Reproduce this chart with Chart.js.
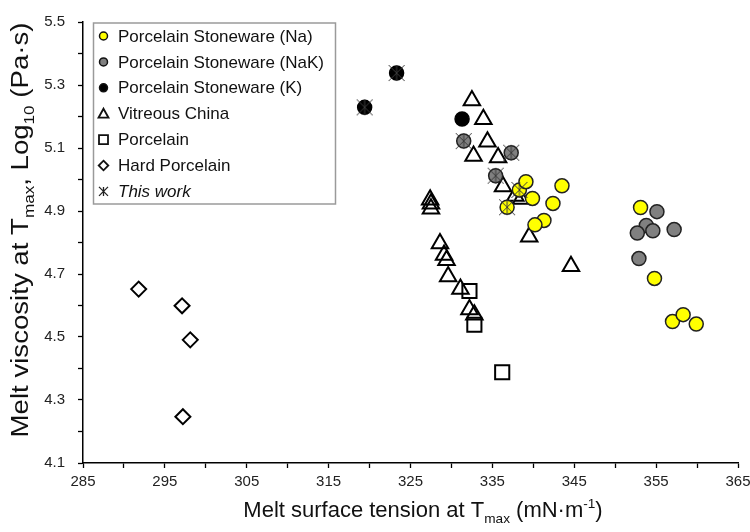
<!DOCTYPE html>
<html>
<head>
<meta charset="utf-8">
<script src="https://cdn.jsdelivr.net/npm/chart.js@4/dist/chart.umd.min.js"></script>
<style>
html,body{margin:0;padding:0;background:#fff;}
#wrap{width:750px;height:532px;position:relative;}
</style>
</head>
<body>
<div id="wrap"><canvas id="c" width="750" height="532"></canvas></div>
<script>
// ---- tick labels ----
const xTickLabels = [285, 295, 305, 315, 325, 335, 345, 355, 365];
const yTickLabels = [4.1, 4.3, 4.5, 4.7, 4.9, 5.1, 5.3, 5.5];

// ---- series (surface tension mN/m, log10 viscosity) ----
const naX  = [336.8, 338.3, 339.1, 343.5, 339.9, 342.4, 341.3, 340.2, 353.1, 354.8, 357.0, 358.3, 359.9];
const naY  = [4.912, 4.967, 4.993, 4.980, 4.940, 4.924, 4.870, 4.856, 4.911, 4.686, 4.549, 4.571, 4.541];

const nakX = [331.5, 335.4, 337.3, 355.1, 353.8, 354.6, 352.7, 357.2, 352.9];
const nakY = [5.122, 5.012, 5.085, 4.898, 4.854, 4.837, 4.830, 4.841, 4.749];

const kX   = [319.4, 323.3, 331.3];
const kY   = [5.229, 5.338, 5.192];

const vcX  = [332.5, 333.9, 334.4, 332.7, 335.7, 336.3, 337.8, 338.5, 339.5, 344.6, 327.4, 327.5, 327.5, 328.6, 329.1, 329.4, 329.6, 331.1, 332.2, 332.8];
const vcY  = [5.251, 5.191, 5.120, 5.075, 5.070, 4.978, 4.948, 4.938, 4.818, 4.725, 4.936, 4.923, 4.907, 4.797, 4.760, 4.744, 4.692, 4.652, 4.587, 4.571];

const porX = [332.2, 332.8, 336.2];
const porY = [4.646, 4.539, 4.388];

const hpX  = [291.8, 297.1, 298.1, 297.2];
const hpY  = [4.652, 4.599, 4.491, 4.247];

const twX  = [319.4, 323.3, 331.5, 335.4, 337.3, 336.8, 338.3];
const twY  = [5.229, 5.338, 5.122, 5.012, 5.085, 4.912, 4.967];

const seriesNames = ['Porcelain Stoneware (Na)', 'Porcelain Stoneware (NaK)', 'Porcelain Stoneware (K)',
  'Vitreous China', 'Porcelain', 'Hard Porcelain', 'This work'];

function pts(xs, ys) { return xs.map((x, i) => ({x: x, y: ys[i]})); }

function markCanvas(size, half, color, lw) {
  const c = document.createElement('canvas');
  c.width = size; c.height = size;
  const g = c.getContext('2d');
  g.strokeStyle = color; g.lineWidth = lw;
  const m = size / 2;
  g.beginPath();
  g.moveTo(m - half, m - half); g.lineTo(m + half, m + half);
  g.moveTo(m + half, m - half); g.lineTo(m - half, m + half);
  g.moveTo(m, m - half); g.lineTo(m, m + half);
  g.stroke();
  return c;
}
const twMark = markCanvas(18, 8, '#3a3a3a', 1);

const FONT = '"Liberation Sans", Arial, Helvetica, sans-serif';
const YEL = '#ffff00', GRY = '#808080';

const datasets = [
  {label: seriesNames[0], data: pts(naX, naY), order: 1, pointStyle: 'circle', pointRadius: 7,
   backgroundColor: YEL, borderColor: '#222', borderWidth: 1.5},
  {label: seriesNames[1], data: pts(nakX, nakY), order: 2, pointStyle: 'circle', pointRadius: 7,
   backgroundColor: GRY, borderColor: '#222', borderWidth: 1.5},
  {label: seriesNames[2], data: pts(kX, kY), order: 3, pointStyle: 'circle', pointRadius: 7,
   backgroundColor: '#000', borderColor: '#000', borderWidth: 1.5},
  {label: seriesNames[3], data: pts(vcX, vcY), order: 4, pointStyle: 'triangle', pointRadius: 9.5,
   backgroundColor: 'rgba(255,255,255,0)', borderColor: '#000', borderWidth: 2},
  {label: seriesNames[4], data: pts(porX, porY), order: 5, pointStyle: 'rect', pointRadius: 10,
   backgroundColor: 'rgba(255,255,255,0)', borderColor: '#000', borderWidth: 2},
  {label: seriesNames[5], data: pts(hpX, hpY), order: 6, pointStyle: 'rectRot', pointRadius: 7.5,
   backgroundColor: 'rgba(255,255,255,0)', borderColor: '#000', borderWidth: 2},
  {label: seriesNames[6], data: pts(twX, twY), order: 0, pointStyle: twMark, pointRadius: 9,
   backgroundColor: 'rgba(0,0,0,0)', borderColor: '#333', borderWidth: 1}
];

function drawRich(ctx, segs, size, x, y, stretch) {
  const small = size * 0.62;
  let w = 0;
  segs.forEach(s => {
    ctx.font = (s.t === 'n' ? size : small) + 'px ' + FONT;
    s.w = ctx.measureText(s.s).width; w += s.w;
  });
  ctx.save();
  ctx.translate(x, y);
  ctx.scale(stretch, 1);
  let cx = -w / 2;
  ctx.textAlign = 'left'; ctx.textBaseline = 'alphabetic';
  segs.forEach(s => {
    ctx.font = (s.t === 'n' ? size : small) + 'px ' + FONT;
    const dy = s.t === 'sub' ? size * 0.28 : (s.t === 'sup' ? -size * 0.42 : 0);
    ctx.fillText(s.s, cx, dy);
    cx += s.w;
  });
  ctx.restore();
}

const decor = {
  id: 'decor',
  afterDraw(chart) {
    const ctx = chart.ctx;
    ctx.save();
    // legend frame
    ctx.strokeStyle = '#9a9a9a'; ctx.lineWidth = 1.5;
    ctx.strokeRect(93.5, 23, 242, 181);
    const rowY0 = 36, rowH = 25.9, mx = 103.5;
    seriesNames.forEach((name, i) => {
      const y = rowY0 + i * rowH;
      ctx.beginPath();
      ctx.lineWidth = 1.5; ctx.strokeStyle = '#111';
      if (i < 3) {
        ctx.arc(mx, y, 4, 0, Math.PI * 2);
        ctx.fillStyle = [YEL, GRY, '#000'][i];
        ctx.fill(); ctx.stroke();
      } else if (i === 3) {
        ctx.lineWidth = 1.8;
        ctx.moveTo(mx, y - 5); ctx.lineTo(mx + 5, y + 4); ctx.lineTo(mx - 5, y + 4); ctx.closePath();
        ctx.stroke();
      } else if (i === 4) {
        ctx.lineWidth = 1.8;
        ctx.rect(mx - 4.5, y - 4.5, 9, 9); ctx.stroke();
      } else if (i === 5) {
        ctx.lineWidth = 1.8;
        ctx.moveTo(mx, y - 4.8); ctx.lineTo(mx + 4.8, y); ctx.lineTo(mx, y + 4.8); ctx.lineTo(mx - 4.8, y); ctx.closePath();
        ctx.stroke();
      } else {
        ctx.lineWidth = 1.3; ctx.strokeStyle = '#222';
        ctx.moveTo(mx - 4.5, y - 4.5); ctx.lineTo(mx + 4.5, y + 4.5);
        ctx.moveTo(mx + 4.5, y - 4.5); ctx.lineTo(mx - 4.5, y + 4.5);
        ctx.moveTo(mx, y - 4.5); ctx.lineTo(mx, y + 4.5);
        ctx.stroke();
      }
      ctx.fillStyle = '#111';
      ctx.font = (i === 6 ? 'italic ' : '') + '17px ' + FONT;
      ctx.textAlign = 'left'; ctx.textBaseline = 'middle';
      ctx.fillText(name, 118, y + 1);
    });
    // axis titles
    ctx.fillStyle = '#111';
    drawRich(ctx, [{t:'n', s:'Melt surface tension at T'}, {t:'sub', s:'max'}, {t:'n', s:' (mN\u00B7m'}, {t:'sup', s:'-1'}, {t:'n', s:')'}],
      22, 423, 517, 1);
    ctx.translate(28, 230);
    ctx.rotate(-Math.PI / 2);
    drawRich(ctx, [{t:'n', s:'Melt viscosity at T'}, {t:'sub', s:'max'}, {t:'n', s:', Log'}, {t:'sub', s:'10'}, {t:'n', s:' (Pa\u00B7s)'}],
      23, 0, 0, 1.2);
    ctx.restore();
  }
};

new Chart(document.getElementById('c'), {
  type: 'scatter',
  data: {datasets: datasets},
  plugins: [decor],
  options: {
    responsive: false,
    animation: false,
    events: [],
    layout: {padding: {top: 19, right: 11, bottom: 0, left: 0}},
    plugins: {legend: {display: false}, tooltip: {enabled: false}},
    scales: {
      x: {
        type: 'linear', min: xTickLabels[0], max: xTickLabels[xTickLabels.length - 1],
        afterFit(s) { s.height = 69; s.paddingLeft = 0; s.paddingRight = 0; },
        ticks: {stepSize: 5, autoSkip: false, maxRotation: 0, padding: 5, color: '#222',
          font: {family: FONT, size: 15},
          callback: v => xTickLabels.includes(Math.round(v)) ? String(Math.round(v)) : ''},
        grid: {drawOnChartArea: false, drawTicks: true, tickLength: 5, tickColor: '#000', tickWidth: 1.3},
        border: {display: true, color: '#000', width: 1.5}
      },
      y: {
        type: 'linear', min: yTickLabels[0], max: yTickLabels[yTickLabels.length - 1],
        afterFit(s) { s.width = 83; },
        ticks: {stepSize: 0.1, autoSkip: false, padding: 13, color: '#222',
          font: {family: FONT, size: 15},
          callback: v => yTickLabels.some(t => Math.abs(t - v) < 1e-6) ? v.toFixed(1) : ''},
        grid: {drawOnChartArea: false, drawTicks: true, tickLength: 5, tickColor: '#000', tickWidth: 1.3},
        border: {display: true, color: '#000', width: 1.5}
      }
    }
  }
});
</script>
</body>
</html>
